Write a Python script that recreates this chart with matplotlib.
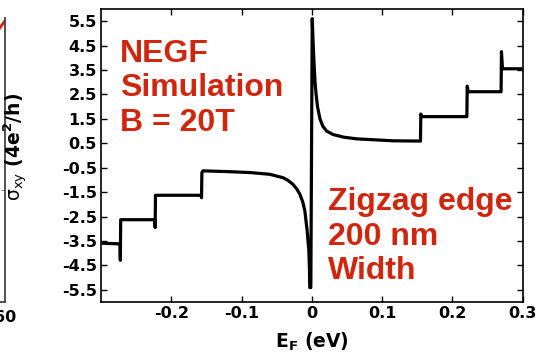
import matplotlib
matplotlib.use("Agg")
import matplotlib.pyplot as plt
import numpy as np

plt.rcParams['font.family'] = ['DejaVu Sans']
plt.rcParams['axes.unicode_minus'] = False
plt.rcParams['mathtext.fontset'] = 'custom'
plt.rcParams['mathtext.rm'] = 'DejaVu Sans'
plt.rcParams['mathtext.it'] = 'DejaVu Sans:italic'
plt.rcParams['mathtext.bf'] = 'DejaVu Sans:bold'

# Hall conductivity vs Fermi energy
e_f = [-0.30, -0.273, -0.2725, -0.272,
       -0.2235, -0.223, -0.2225,
       -0.1575, -0.157, -0.1565, -0.155,
       -0.12, -0.088, -0.06, -0.041, -0.034, -0.027, -0.022, -0.017,
       -0.013, -0.01, -0.0067, -0.0043, -0.0035, -0.003, -0.0015,
       0.0005, 0.0015, 0.003, 0.0045, 0.006, 0.008, 0.0115, 0.0155,
       0.021, 0.03, 0.045, 0.064, 0.09, 0.116, 0.1545, 0.155, 0.1565,
       0.2205, 0.221, 0.2225,
       0.2692, 0.2697, 0.2712, 0.30]
sigma_xy = [-3.59, -3.62, -4.29, -2.63,
            -2.63, -2.95, -1.63,
            -1.63, -1.73, -0.70, -0.63,
            -0.66, -0.70, -0.77, -0.91, -1.02, -1.18, -1.35, -1.59,
            -1.90, -2.27, -3.09, -3.90, -4.60, -5.41, -5.41,
            5.60, 4.80, 3.80, 3.00, 2.50, 2.00, 1.50, 1.20,
            1.00, 0.86, 0.75, 0.68, 0.64, 0.60, 0.59, 1.70, 1.59,
            1.59, 2.84, 2.61,
            2.61, 4.25, 3.55, 3.55]

x_ticks = [-0.2, -0.1, 0.0, 0.1, 0.2, 0.3]
x_labels = ['-0.2', '-0.1', '0', '0.1', '0.2', '0.3']
y_ticks = [5.5, 4.5, 3.5, 2.5, 1.5, 0.5, -0.5, -1.5, -2.5, -3.5, -4.5, -5.5]
y_labels = ['%.1f' % v for v in y_ticks]

# sliver of the neighbouring panel on the left edge
prev_x = [55, 62]
prev_y = [0.965, 1.0]

red = '#d0260e'

fig = plt.figure(figsize=(5.52, 3.57), dpi=100)

side = fig.add_axes([-0.1, 0.154, 0.109, 0.796])
side.plot(prev_x, prev_y, color=red, lw=2)
side.set_xlim(0, 60)
side.set_ylim(0, 1)
for s in ['left', 'top']:
    side.spines[s].set_visible(False)
for s in ['right', 'bottom']:
    side.spines[s].set_color('#444444')
    side.spines[s].set_linewidth(1.3)
side.set_xticks([60])
side.set_xticklabels(['60'], fontsize=11.5, fontweight='bold')
side.set_yticks([0.394])
side.yaxis.tick_right()
side.tick_params(axis='y', direction='in', length=3, labelright=False, color='#888888')
side.tick_params(axis='x', direction='in', length=0, pad=6)

ax = fig.add_axes([0.183, 0.154, 0.764, 0.821])
ax.plot(e_f, sigma_xy, color='black', lw=2.3, solid_joinstyle='round')
ax.set_xlim(-0.3, 0.3)
ax.set_ylim(-6, 6)
ax.set_xticks(x_ticks)
ax.set_xticklabels(x_labels, fontsize=11.5, fontweight='bold')
ax.set_yticks(y_ticks)
ax.set_yticklabels(y_labels, fontsize=11.5, fontweight='bold')
ax.tick_params(direction='in', length=4, top=True, right=True, width=1, pad=3)
for s in ax.spines.values():
    s.set_linewidth(1.2)

ax.set_xlabel(r'E$_{\mathbf{F}}$ (eV)', fontsize=13.5, fontweight='bold')
ax.set_ylabel(r'$\mathrm{σ_{xy}}$ (4e$^{\mathbf{2}}$/h)', fontsize=13.5, fontweight='bold')
ax.yaxis.set_label_coords(-0.168, 0.53)
ax.xaxis.set_label_coords(0.5, -0.097)

ax.text(0.045, 0.898, 'NEGF\nSimulation\nB = 20T', transform=ax.transAxes,
        color=red, fontsize=23, fontweight='bold', va='top', ha='left', linespacing=1.2,
        family='Liberation Sans')
ax.text(0.538, 0.392, 'Zigzag edge\n200 nm\nWidth', transform=ax.transAxes,
        color=red, fontsize=23, fontweight='bold', va='top', ha='left', linespacing=1.2,
        family='Liberation Sans')

fig.savefig('out.png', dpi=100)
